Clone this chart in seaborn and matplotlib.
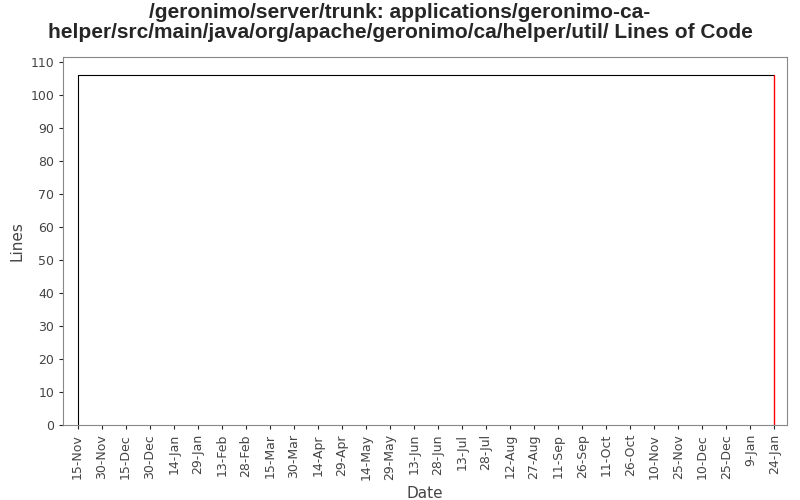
import matplotlib
matplotlib.use("Agg")
import matplotlib.pyplot as plt
import seaborn as sns
import pandas as pd

dates = pd.to_datetime(["2006-11-15", "2006-11-15", "2008-01-24"])
lines = [0, 106, 106]
end_dates = pd.to_datetime(["2008-01-24", "2008-01-24"])
end_lines = [106, 0]
tick_dates = pd.date_range("2006-11-15", periods=30, freq="15D")

sns.set_style("white")
plt.rcParams['font.family'] = ['DejaVu Sans']
fig, ax = plt.subplots(figsize=(8, 5), dpi=100)
fig.subplots_adjust(left=0.079, right=0.984, top=0.886, bottom=0.15)
df = pd.DataFrame({"Date": dates, "Lines": lines})
sns.lineplot(data=df, x="Date", y="Lines", ax=ax, color="black", linewidth=0.8, sort=False, estimator=None)
ax.plot(end_dates, end_lines, color="red", linewidth=1)
ax.set_xlim(tick_dates[0] - pd.Timedelta(days=9), tick_dates[-1] + pd.Timedelta(days=8))
ax.set_ylim(0, 111.5)
ax.set_yticks(range(0, 111, 10))
ax.set_xticks(tick_dates)
ax.set_xticklabels([f"{d.day}-{d.strftime('%b')}" for d in tick_dates], rotation=90, fontsize=9, color="#444444")
ax.tick_params(axis="y", labelsize=9, labelcolor="#444444", left=True, length=3)
ax.tick_params(axis="x", bottom=True, length=3)
for s in ax.spines.values():
    s.set_color("#888888")
ax.set_xlabel("Date", fontsize=11, color="#444444")
ax.set_ylabel("Lines", fontsize=11, color="#444444")
fig.suptitle("/geronimo/server/trunk: applications/geronimo-ca-\nhelper/src/main/java/org/apache/geronimo/ca/helper/util/ Lines of Code",
             fontsize=15, fontweight="bold", y=0.995, family=["Liberation Sans", "DejaVu Sans"], linespacing=1.1)
fig.savefig("out.png")
